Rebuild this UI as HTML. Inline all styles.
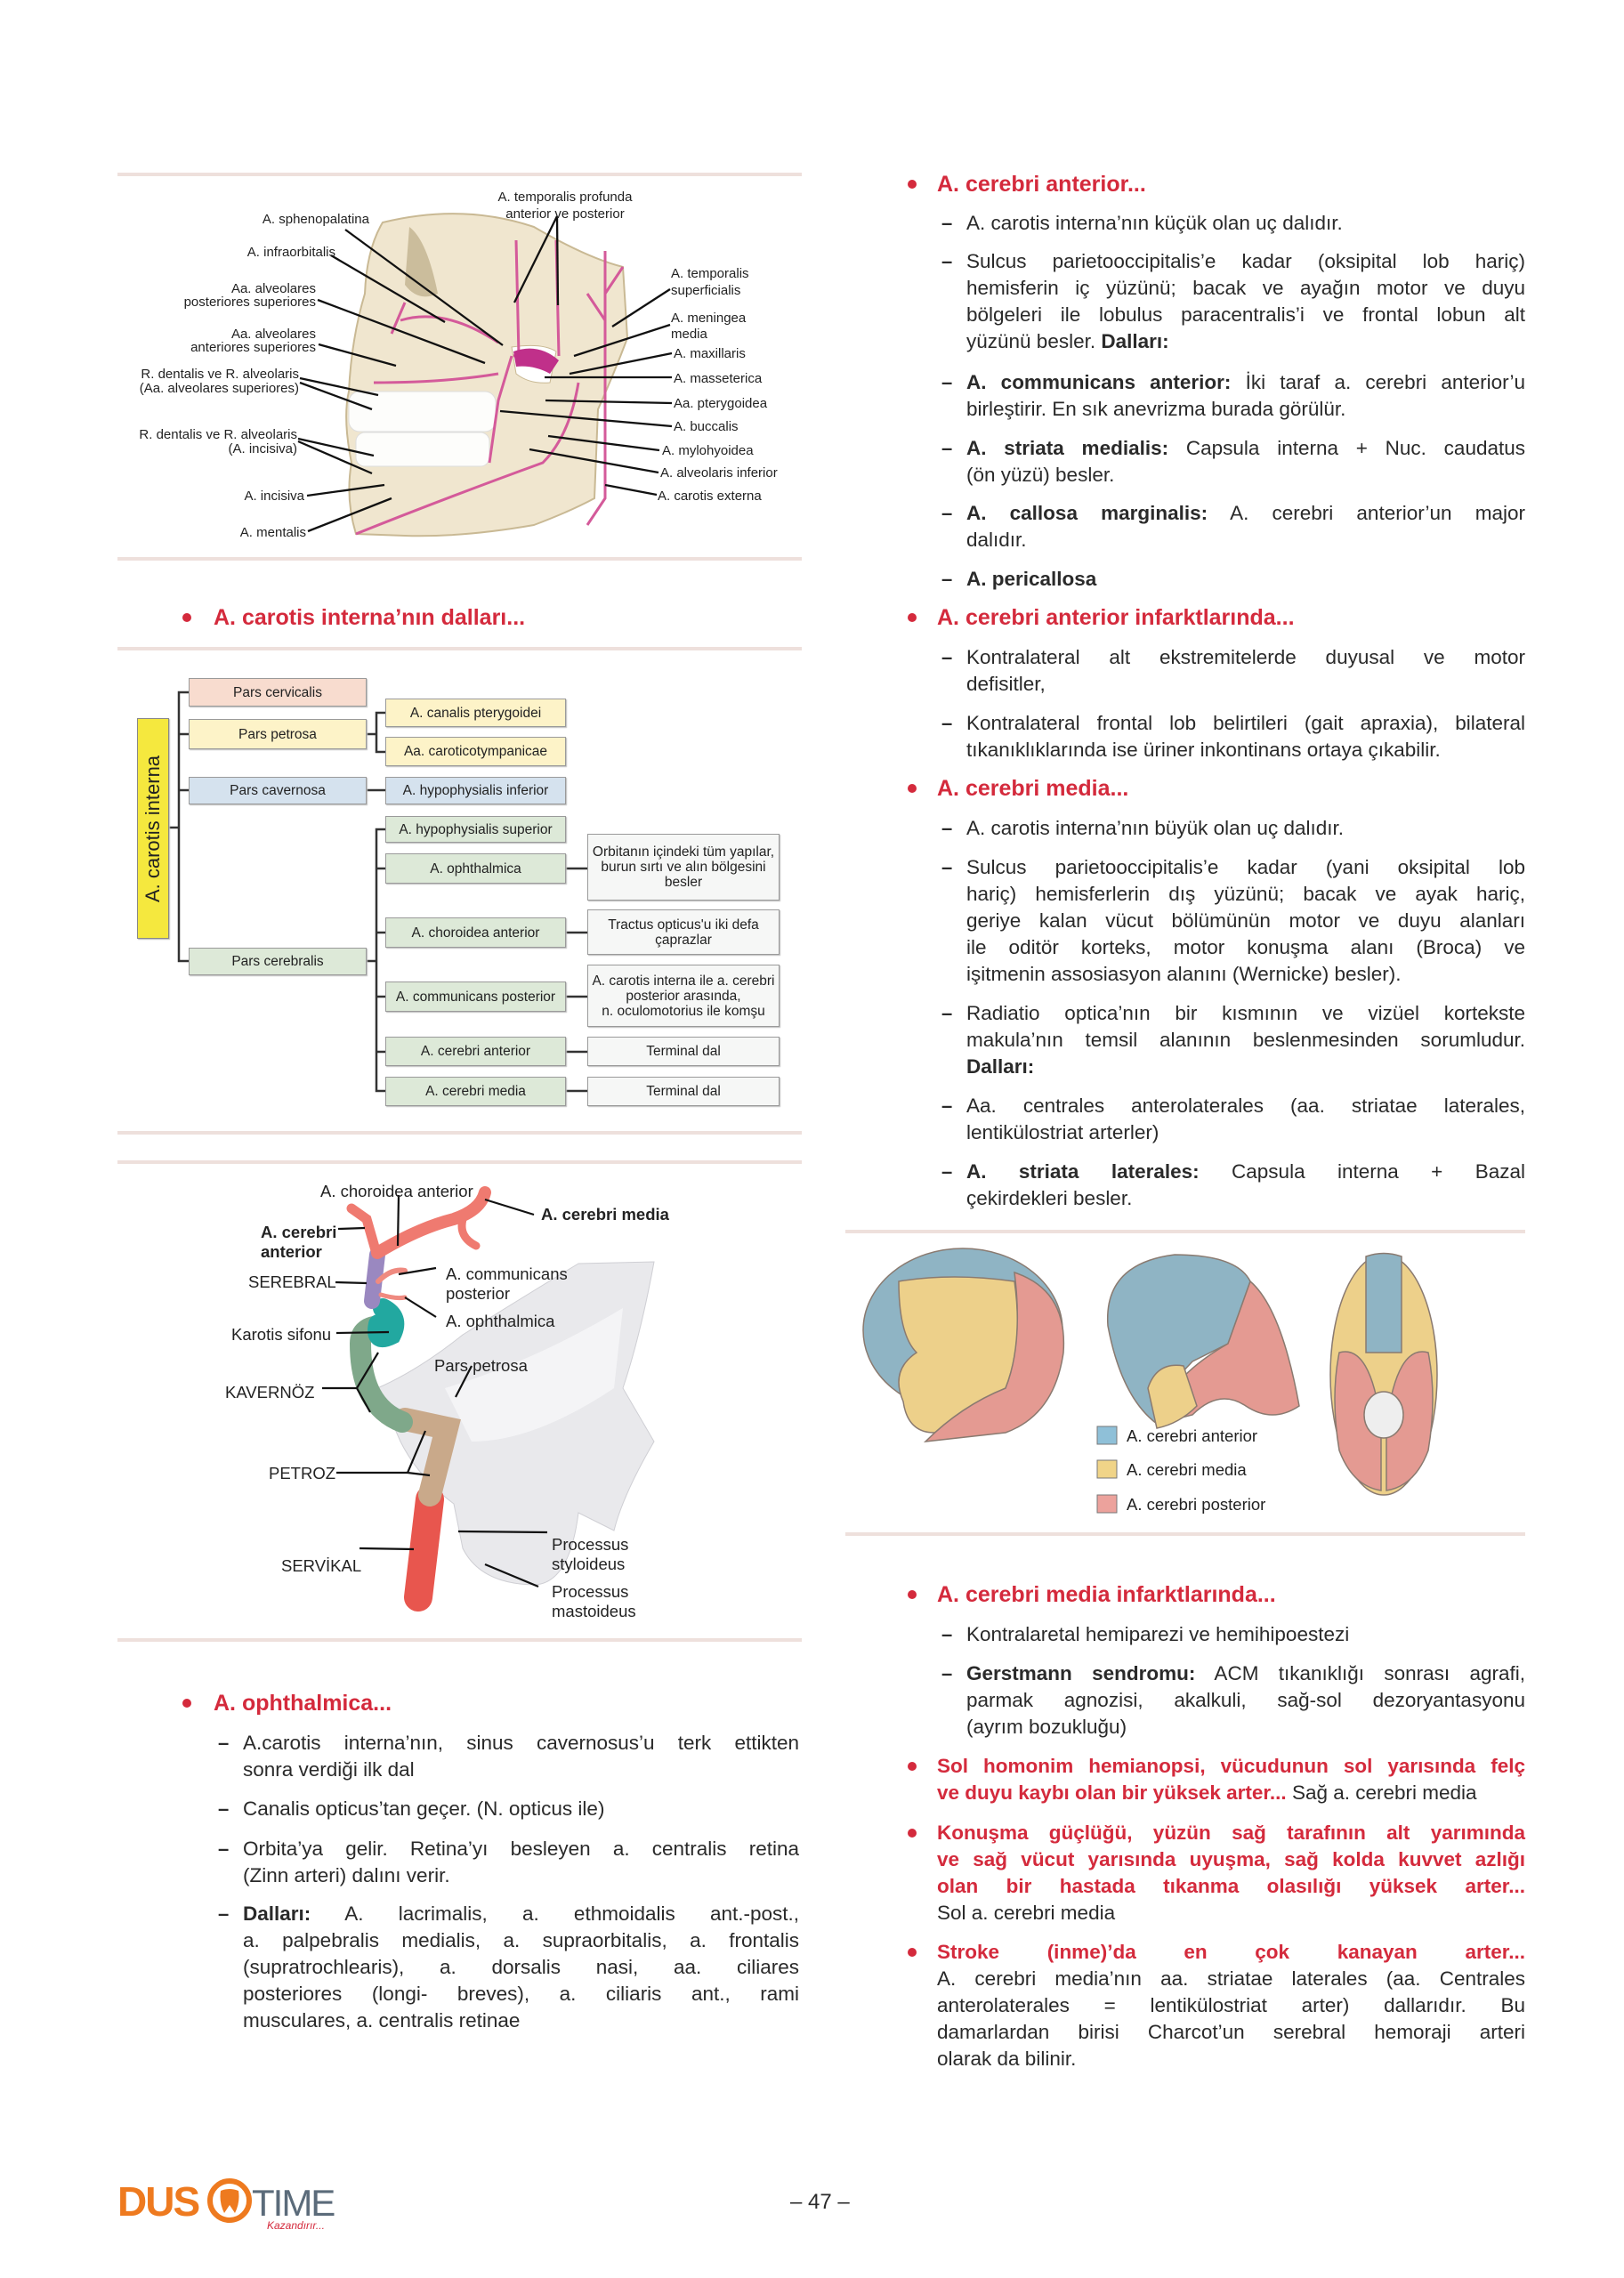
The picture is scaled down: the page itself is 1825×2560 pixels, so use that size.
<!DOCTYPE html>
<html><head><meta charset="utf-8"><style>
*{margin:0;padding:0;box-sizing:border-box}
body{width:1825px;height:2560px;background:#fff;position:relative;overflow:hidden;font-family:"Liberation Sans",sans-serif;color:#2a2a2a}
.l{position:absolute;font-size:22.5px;line-height:30px;height:30px;white-space:nowrap;overflow:visible}
.j{text-align:justify;text-align-last:justify;white-space:normal}
.r{width:628px}.lw{width:625px}
.h{position:absolute;font-size:25px;line-height:30px;font-weight:bold;color:#d42a3c;white-space:nowrap}
.rb{color:#d42a3c;font-weight:bold}
.dot{position:absolute;width:10px;height:10px;border-radius:50%;background:#d42a3c}
.d{position:absolute;font-size:22px;line-height:30px;font-weight:bold}
.hr{position:absolute;height:4px;background:#eee0dc}
svg{position:absolute;left:0;top:0}
.fb{position:absolute;font-size:15.5px;display:flex;align-items:center;justify-content:center;text-align:center;line-height:17px;border:1.5px solid #9a9a9a;color:#222;box-shadow:1px 1px 1px #bbb}
.s{font-size:15px;fill:#222}
.c{font-size:18.5px;fill:#222}
</style></head><body>

<div class="hr" style="left:132px;top:194px;width:769px"></div>
<div class="hr" style="left:132px;top:626px;width:769px"></div>
<div class="hr" style="left:132px;top:727px;width:769px"></div>
<div class="hr" style="left:132px;top:1271px;width:769px"></div>
<div class="hr" style="left:132px;top:1304px;width:769px"></div>
<div class="hr" style="left:132px;top:1841px;width:769px"></div>
<div class="hr" style="left:950px;top:1382px;width:764px"></div>
<div class="hr" style="left:950px;top:1722px;width:764px"></div>

<svg width="1825" height="2560" viewBox="0 0 1825 2560">
<!-- skull -->
<path d="M430,250 Q520,228 600,255 Q660,290 700,300 L705,380 Q690,420 672,460 L668,560 Q640,575 600,590 Q520,604 455,602 L400,600 Q388,560 395,520 Q385,470 392,440 Q395,380 410,330 Q412,280 430,250Z" fill="#f0e6cf" stroke="#c9b994" stroke-width="2"/>
<path d="M460,255 Q480,270 492,330 Q470,340 455,320 Z" fill="#cbbd9c"/>
<path d="M575,390 Q610,385 625,395 L618,430 Q595,432 580,420Z" fill="#fff" stroke="#c9b994"/>
<rect x="392" y="440" width="165" height="45" rx="12" fill="#fdfdfb" stroke="#ddd"/>
<rect x="400" y="486" width="150" height="38" rx="10" fill="#fdfdfb" stroke="#ddd"/>
<g stroke="#d45a9a" stroke-width="3" fill="none">
<path d="M680,282 L680,560 L660,590"/><path d="M680,330 L700,300"/><path d="M680,360 L660,330"/>
<path d="M577,400 Q600,395 625,405"/><path d="M575,400 L560,450 L550,520"/>
<path d="M400,600 Q500,560 610,520 Q640,490 650,430"/>
<path d="M450,360 Q500,345 560,385"/><path d="M420,430 Q500,430 560,420"/>
<path d="M455,340 L440,375"/><path d="M580,270 L583,400"/><path d="M625,270 L628,400"/>
</g>
<path d="M577,395 Q605,385 628,405 L618,420 Q600,410 580,412Z" fill="#c0308a"/>
<g stroke="#111" stroke-width="2.3">
<line x1="388" y1="258" x2="565" y2="388"/><line x1="372" y1="287" x2="500" y2="362"/>
<line x1="357" y1="337" x2="545" y2="408"/><line x1="358" y1="387" x2="445" y2="411"/>
<line x1="337" y1="425" x2="425" y2="444"/><line x1="337" y1="430" x2="418" y2="460"/>
<line x1="335" y1="493" x2="420" y2="512"/><line x1="335" y1="496" x2="418" y2="532"/>
<line x1="345" y1="557" x2="432" y2="545"/><line x1="346" y1="597" x2="440" y2="560"/>
<line x1="626" y1="243" x2="578" y2="340"/><line x1="626" y1="243" x2="627" y2="343"/>
<line x1="753" y1="325" x2="688" y2="367"/><line x1="753" y1="365" x2="645" y2="400"/>
<line x1="755" y1="397" x2="640" y2="420"/><line x1="755" y1="424" x2="612" y2="424"/>
<line x1="755" y1="453" x2="613" y2="450"/><line x1="755" y1="479" x2="562" y2="462"/>
<line x1="741" y1="506" x2="616" y2="490"/><line x1="740" y1="531" x2="595" y2="505"/>
<line x1="738" y1="556" x2="680" y2="545"/>
</g>
<g class="s">
<text x="415" y="251" text-anchor="end" class="s">A. sphenopalatina</text>
<text x="377" y="288" text-anchor="end" class="s">A. infraorbitalis</text>
<text x="355" y="329" text-anchor="end" class="s">Aa. alveolares</text>
<text x="355" y="344" text-anchor="end" class="s">posteriores superiores</text>
<text x="355" y="380" text-anchor="end" class="s">Aa. alveolares</text>
<text x="355" y="395" text-anchor="end" class="s">anteriores superiores</text>
<text x="336" y="425" text-anchor="end" class="s">R. dentalis ve R. alveolaris</text>
<text x="336" y="441" text-anchor="end" class="s">(Aa. alveolares superiores)</text>
<text x="334" y="493" text-anchor="end" class="s">R. dentalis ve R. alveolaris</text>
<text x="334" y="509" text-anchor="end" class="s">(A. incisiva)</text>
<text x="342" y="562" text-anchor="end" class="s">A. incisiva</text>
<text x="344" y="603" text-anchor="end" class="s">A. mentalis</text>
<text x="635" y="226" text-anchor="middle" class="s">A. temporalis profunda</text>
<text x="635" y="245" text-anchor="middle" class="s">anterior ve posterior</text>
<text x="754" y="312" class="s">A. temporalis</text><text x="754" y="331" class="s">superficialis</text>
<text x="754" y="362" class="s">A. meningea</text><text x="754" y="380" class="s">media</text>
<text x="757" y="402" class="s">A. maxillaris</text>
<text x="757" y="430" class="s">A. masseterica</text>
<text x="757" y="458" class="s">Aa. pterygoidea</text>
<text x="757" y="484" class="s">A. buccalis</text>
<text x="744" y="511" class="s">A. mylohyoidea</text>
<text x="742" y="536" class="s">A. alveolaris inferior</text>
<text x="739" y="562" class="s">A. carotis externa</text>
</g>

<!-- flowchart connectors -->
<g stroke="#333" stroke-width="2.5" fill="none">
<path d="M212,778 H201 V1080 H212"/><line x1="201" y1="825" x2="212" y2="825"/><line x1="201" y1="888" x2="212" y2="888"/><line x1="190" y1="930" x2="201" y2="930"/>
<path d="M412,825 H422"/><path d="M433,801 H423 V845 H433"/>
<line x1="412" y1="888" x2="433" y2="888"/>
<path d="M412,1080 H423"/><path d="M433,932 H423 V1226 H433"/>
<line x1="423" y1="976" x2="433" y2="976"/><line x1="423" y1="1048" x2="433" y2="1048"/><line x1="423" y1="1120" x2="433" y2="1120"/><line x1="423" y1="1182" x2="433" y2="1182"/>
<line x1="636" y1="976" x2="660" y2="976"/><line x1="636" y1="1048" x2="660" y2="1048"/><line x1="636" y1="1120" x2="660" y2="1120"/><line x1="636" y1="1182" x2="660" y2="1182"/><line x1="636" y1="1226" x2="660" y2="1226"/>
</g>

<!-- carotid figure -->
<path d="M424,1560 Q470,1540 520,1500 Q600,1450 650,1420 L735,1418 Q720,1500 700,1560 L735,1620 Q700,1680 690,1720 L650,1700 Q640,1780 600,1781 Q540,1780 520,1740 L510,1690 Q470,1660 450,1620 Z" fill="#e9e9ec" stroke="#cfcfd4"/>
<path d="M500,1560 Q600,1530 700,1470 L690,1560 Q600,1620 530,1620Z" fill="#f4f4f6"/>
<g fill="none" stroke-linecap="round">
<path d="M470,1795 L483,1685" stroke="#e8564e" stroke-width="32"/>
<path d="M483,1680 L502,1605 L455,1595" stroke="#c9a98a" stroke-width="26"/>
<path d="M452,1598 Q405,1580 405,1510 Q405,1490 430,1490" stroke="#7fa88a" stroke-width="24"/>
<path d="M430,1470 Q450,1480 440,1500 Q420,1510 425,1488" stroke="#22a8a0" stroke-width="22"/>
<path d="M418,1462 L424,1410" stroke="#9a88c0" stroke-width="18"/>
<path d="M424,1408 Q470,1380 510,1370 Q540,1360 545,1340" stroke="#ef7a70" stroke-width="14"/>
<path d="M422,1405 L412,1370 L395,1358" stroke="#ef7a70" stroke-width="11"/>
<path d="M520,1370 Q515,1390 535,1400" stroke="#ef7a70" stroke-width="9"/>
<path d="M425,1440 Q440,1425 455,1428" stroke="#ef8a80" stroke-width="6"/>
<path d="M428,1455 Q445,1460 455,1458" stroke="#ef8a80" stroke-width="5"/>
</g>
<g stroke="#111" stroke-width="2.2" fill="none">
<line x1="448" y1="1343" x2="447" y2="1400"/><line x1="600" y1="1365" x2="545" y2="1348"/>
<line x1="380" y1="1381" x2="410" y2="1380"/><line x1="377" y1="1441" x2="412" y2="1442"/>
<line x1="490" y1="1425" x2="448" y2="1432"/><line x1="490" y1="1480" x2="455" y2="1458"/>
<line x1="378" y1="1498" x2="437" y2="1497"/>
<path d="M362,1560 H401 L425,1520 M401,1560 L416,1587"/>
<line x1="530" y1="1535" x2="512" y2="1570"/>
<path d="M378,1655 H458 L478,1608 M458,1655 L483,1658"/>
<line x1="404" y1="1740" x2="465" y2="1741"/>
<line x1="615" y1="1722" x2="515" y2="1721"/><line x1="605" y1="1783" x2="545" y2="1758"/>
</g>
<g class="c">
<text x="360" y="1345" class="c">A. choroidea anterior</text>
<text x="608" y="1371" class="c" font-weight="bold">A. cerebri media</text>
<text x="293" y="1391" class="c" font-weight="bold">A. cerebri</text>
<text x="293" y="1413" class="c" font-weight="bold">anterior</text>
<text x="279" y="1447" class="c">SEREBRAL</text>
<text x="501" y="1438" class="c">A. communicans</text><text x="501" y="1460" class="c">posterior</text>
<text x="501" y="1491" class="c">A. ophthalmica</text>
<text x="260" y="1506" class="c">Karotis sifonu</text>
<text x="488" y="1541" class="c">Pars petrosa</text>
<text x="253" y="1571" class="c">KAVERNÖZ</text>
<text x="302" y="1662" class="c">PETROZ</text>
<text x="316" y="1766" class="c">SERVİKAL</text>
<text x="620" y="1742" class="c">Processus</text><text x="620" y="1764" class="c">styloideus</text>
<text x="620" y="1795" class="c">Processus</text><text x="620" y="1817" class="c">mastoideus</text>
</g>

<!-- brains -->
<g stroke="#8a7a70" stroke-width="1.5">
<ellipse cx="1082" cy="1495" rx="112" ry="92" fill="#8fb4c4"/>
<path d="M1010,1440 Q1070,1430 1140,1440 Q1150,1510 1130,1560 Q1090,1600 1050,1610 Q1020,1610 1015,1575 Q1000,1540 1030,1520 Q1010,1500 1010,1440Z" fill="#edd08a"/>
<path d="M1140,1430 Q1200,1450 1195,1520 Q1185,1590 1130,1610 L1040,1620 Q1080,1580 1130,1560 Q1150,1510 1140,1430Z" fill="#e49a92"/>
<path d="M1245,1490 Q1240,1420 1320,1410 Q1390,1410 1405,1440 L1380,1510 L1340,1530 Q1310,1560 1300,1600 Q1260,1570 1245,1490Z" fill="#8fb4c4"/>
<path d="M1405,1440 Q1440,1470 1460,1580 Q1430,1600 1400,1580 Q1370,1560 1340,1590 L1300,1600 Q1310,1550 1380,1510Z" fill="#e49a92"/>
<path d="M1290,1560 Q1300,1530 1330,1535 L1345,1580 Q1325,1600 1300,1605Z" fill="#edd08a"/>
<ellipse cx="1555" cy="1545" rx="60" ry="135" fill="#edd08a"/>
<path d="M1535,1412 Q1555,1405 1575,1412 L1575,1520 L1535,1520Z" fill="#8fb4c4"/>
<path d="M1505,1520 Q1540,1510 1552,1600 L1552,1675 Q1520,1670 1505,1630 Q1495,1570 1505,1520Z" fill="#e49a92"/>
<path d="M1605,1520 Q1570,1510 1558,1600 L1558,1675 Q1590,1670 1605,1630 Q1615,1570 1605,1520Z" fill="#e49a92"/>
<ellipse cx="1555" cy="1590" rx="22" ry="26" fill="#eeeeee"/>
</g>
<rect x="1233" y="1603" width="22" height="20" fill="#8fc0d8" stroke="#777"/>
<rect x="1233" y="1641" width="22" height="20" fill="#f0d488" stroke="#777"/>
<rect x="1233" y="1680" width="22" height="20" fill="#eca29c" stroke="#777"/>
<text x="1266" y="1620" font-size="18.5" fill="#222">A. cerebri anterior</text>
<text x="1266" y="1658" font-size="18.5" fill="#222">A. cerebri media</text>
<text x="1266" y="1697" font-size="18.5" fill="#222">A. cerebri posterior</text>

<!-- logo -->
<text x="132" y="2490" font-size="46" font-weight="bold" fill="#ee7a1f" letter-spacing="-2">DUS</text>
<circle cx="258" cy="2473" r="22" fill="none" stroke="#ee7a1f" stroke-width="6"/>
<path d="M248,2462 Q258,2458 268,2462 Q270,2475 264,2487 L258,2478 L252,2487 Q246,2475 248,2462Z" fill="#ee7a1f"/>
<text x="283" y="2490" font-size="42" fill="#5b6b7a" letter-spacing="-2">TIME</text>
<text x="300" y="2505" font-size="12" font-style="italic" fill="#d42a3c">Kazandırır...</text>
</svg>

<!-- flow boxes -->
<div class="fb" style="left:154px;top:807px;width:36px;height:248px;background:#f5e83e;border-color:#888"><span style="transform:rotate(-90deg);white-space:nowrap;font-size:22px">A. carotis interna</span></div>
<div class="fb" style="left:212px;top:762px;width:200px;height:32px;background:#f8dccf">Pars cervicalis</div>
<div class="fb" style="left:212px;top:808px;width:200px;height:34px;background:#fdf3c8">Pars petrosa</div>
<div class="fb" style="left:212px;top:873px;width:200px;height:31px;background:#d5e2ee">Pars cavernosa</div>
<div class="fb" style="left:212px;top:1065px;width:200px;height:31px;background:#dde9d8">Pars cerebralis</div>
<div class="fb" style="left:433px;top:785px;width:203px;height:32px;background:#fdf3c8">A. canalis pterygoidei</div>
<div class="fb" style="left:433px;top:828px;width:203px;height:33px;background:#fdf3c8">Aa. caroticotympanicae</div>
<div class="fb" style="left:433px;top:873px;width:203px;height:31px;background:#d5e2ee">A. hypophysialis inferior</div>
<div class="fb" style="left:433px;top:917px;width:203px;height:30px;background:#dde9d8">A. hypophysialis superior</div>
<div class="fb" style="left:433px;top:959px;width:203px;height:34px;background:#dde9d8">A. ophthalmica</div>
<div class="fb" style="left:433px;top:1031px;width:203px;height:34px;background:#dde9d8">A. choroidea anterior</div>
<div class="fb" style="left:433px;top:1103px;width:203px;height:34px;background:#dde9d8">A. communicans posterior</div>
<div class="fb" style="left:433px;top:1165px;width:203px;height:33px;background:#dde9d8">A. cerebri anterior</div>
<div class="fb" style="left:433px;top:1210px;width:203px;height:33px;background:#dde9d8">A. cerebri media</div>
<div class="fb" style="left:660px;top:937px;width:216px;height:75px;background:#f6f7f6">Orbitanın içindeki tüm yapılar,<br>burun sırtı ve alın bölgesini<br>besler</div>
<div class="fb" style="left:660px;top:1022px;width:216px;height:51px;background:#f6f7f6">Tractus opticus'u iki defa<br>çaprazlar</div>
<div class="fb" style="left:660px;top:1084px;width:216px;height:70px;background:#f6f7f6">A. carotis interna ile a. cerebri<br>posterior arasında,<br>n. oculomotorius ile komşu</div>
<div class="fb" style="left:660px;top:1165px;width:216px;height:33px;background:#f6f7f6">Terminal dal</div>
<div class="fb" style="left:660px;top:1210px;width:216px;height:33px;background:#f6f7f6">Terminal dal</div>

<!-- left text -->
<div class="dot" style="left:205px;top:689px"></div><div class="h" style="left:240px;top:679px">A. carotis interna’nın dalları...</div>
<div class="dot" style="left:205px;top:1909px"></div><div class="h" style="left:240px;top:1899px">A. ophthalmica...</div>
<div class="d" style="left:245px;top:1944px">–</div>
<div class="l j lw" style="left:273px;top:1944px">A.carotis interna’nın, sinus cavernosus’u terk ettikten</div>
<div class="l lw" style="left:273px;top:1974px">sonra verdiği ilk dal</div>
<div class="d" style="left:245px;top:2018px">–</div>
<div class="l lw" style="left:273px;top:2018px">Canalis opticus’tan geçer. (N. opticus ile)</div>
<div class="d" style="left:245px;top:2063px">–</div>
<div class="l j lw" style="left:273px;top:2063px">Orbita’ya gelir. Retina’yı besleyen a. centralis retina</div>
<div class="l lw" style="left:273px;top:2093px">(Zinn arteri) dalını verir.</div>
<div class="d" style="left:245px;top:2136px">–</div>
<div class="l j lw" style="left:273px;top:2136px"><b>Dalları:</b> A. lacrimalis, a. ethmoidalis ant.-post.,</div>
<div class="l j lw" style="left:273px;top:2166px">a. palpebralis medialis, a. supraorbitalis, a. frontalis</div>
<div class="l j lw" style="left:273px;top:2196px">(supratrochlearis), a. dorsalis nasi, aa. ciliares</div>
<div class="l j lw" style="left:273px;top:2226px">posteriores (longi- breves), a. ciliaris ant., rami</div>
<div class="l lw" style="left:273px;top:2256px">musculares, a. centralis retinae</div>

<!-- right text -->
<div class="dot" style="left:1020px;top:202px"></div><div class="h" style="left:1053px;top:192px">A. cerebri anterior...</div>
<div class="d" style="left:1058px;top:236px">–</div>
<div class="l r" style="left:1086px;top:236px">A. carotis interna’nın küçük olan uç dalıdır.</div>
<div class="d" style="left:1058px;top:279px">–</div>
<div class="l j r" style="left:1086px;top:279px">Sulcus parietooccipitalis’e kadar (oksipital lob hariç)</div>
<div class="l j r" style="left:1086px;top:309px">hemisferin iç yüzünü; bacak ve ayağın motor ve duyu</div>
<div class="l j r" style="left:1086px;top:339px">bölgeleri ile lobulus paracentralis’i ve frontal lobun alt</div>
<div class="l r" style="left:1086px;top:369px">yüzünü besler. <b>Dalları:</b></div>
<div class="d" style="left:1058px;top:415px">–</div>
<div class="l j r" style="left:1086px;top:415px"><b>A. communicans anterior:</b> İki taraf a. cerebri anterior’u</div>
<div class="l r" style="left:1086px;top:445px">birleştirir. En sık anevrizma burada görülür.</div>
<div class="d" style="left:1058px;top:489px">–</div>
<div class="l j r" style="left:1086px;top:489px"><b>A. striata medialis:</b> Capsula interna + Nuc. caudatus</div>
<div class="l r" style="left:1086px;top:519px">(ön yüzü) besler.</div>
<div class="d" style="left:1058px;top:562px">–</div>
<div class="l j r" style="left:1086px;top:562px"><b>A. callosa marginalis:</b> A. cerebri anterior’un major</div>
<div class="l r" style="left:1086px;top:592px">dalıdır.</div>
<div class="d" style="left:1058px;top:636px">–</div>
<div class="l r" style="left:1086px;top:636px"><b>A. pericallosa</b></div>
<div class="dot" style="left:1020px;top:689px"></div><div class="h" style="left:1053px;top:679px">A. cerebri anterior infarktlarında...</div>
<div class="d" style="left:1058px;top:724px">–</div>
<div class="l j r" style="left:1086px;top:724px">Kontralateral alt ekstremitelerde duyusal ve motor</div>
<div class="l r" style="left:1086px;top:754px">defisitler,</div>
<div class="d" style="left:1058px;top:798px">–</div>
<div class="l j r" style="left:1086px;top:798px">Kontralateral frontal lob belirtileri (gait apraxia), bilateral</div>
<div class="l r" style="left:1086px;top:828px">tıkanıklıklarında ise üriner inkontinans ortaya çıkabilir.</div>
<div class="dot" style="left:1020px;top:881px"></div><div class="h" style="left:1053px;top:871px">A. cerebri media...</div>
<div class="d" style="left:1058px;top:916px">–</div>
<div class="l r" style="left:1086px;top:916px">A. carotis interna’nın büyük olan uç dalıdır.</div>
<div class="d" style="left:1058px;top:960px">–</div>
<div class="l j r" style="left:1086px;top:960px">Sulcus parietooccipitalis’e kadar (yani oksipital lob</div>
<div class="l j r" style="left:1086px;top:990px">hariç) hemisferlerin dış yüzünü; bacak ve ayak hariç,</div>
<div class="l j r" style="left:1086px;top:1020px">geriye kalan vücut bölümünün motor ve duyu alanları</div>
<div class="l j r" style="left:1086px;top:1050px">ile oditör korteks, motor konuşma alanı (Broca) ve</div>
<div class="l r" style="left:1086px;top:1080px">işitmenin assosiasyon alanını (Wernicke) besler).</div>
<div class="d" style="left:1058px;top:1124px">–</div>
<div class="l j r" style="left:1086px;top:1124px">Radiatio optica’nın bir kısmının ve vizüel kortekste</div>
<div class="l j r" style="left:1086px;top:1154px">makula’nın temsil alanının beslenmesinden sorumludur.</div>
<div class="l r" style="left:1086px;top:1184px"><b>Dalları:</b></div>
<div class="d" style="left:1058px;top:1228px">–</div>
<div class="l j r" style="left:1086px;top:1228px">Aa. centrales anterolaterales (aa. striatae laterales,</div>
<div class="l r" style="left:1086px;top:1258px">lentikülostriat arterler)</div>
<div class="d" style="left:1058px;top:1302px">–</div>
<div class="l j r" style="left:1086px;top:1302px"><b>A. striata laterales:</b> Capsula interna + Bazal</div>
<div class="l r" style="left:1086px;top:1332px">çekirdekleri besler.</div>

<div class="dot" style="left:1020px;top:1787px"></div><div class="h" style="left:1053px;top:1777px">A. cerebri media infarktlarında...</div>
<div class="d" style="left:1058px;top:1822px">–</div>
<div class="l r" style="left:1086px;top:1822px">Kontralaretal hemiparezi ve hemihipoestezi</div>
<div class="d" style="left:1058px;top:1866px">–</div>
<div class="l j r" style="left:1086px;top:1866px"><b>Gerstmann sendromu:</b> ACM tıkanıklığı sonrası agrafi,</div>
<div class="l j r" style="left:1086px;top:1896px">parmak agnozisi, akalkuli, sağ-sol dezoryantasyonu</div>
<div class="l r" style="left:1086px;top:1926px">(ayrım bozukluğu)</div>
<div class="dot" style="left:1020px;top:1980px"></div>
<div class="l j rb" style="left:1053px;top:1970px;width:661px">Sol homonim hemianopsi, vücudunun sol yarısında felç</div>
<div class="l" style="left:1053px;top:2000px"><span class="rb">ve duyu kaybı olan bir yüksek arter...</span> Sağ a. cerebri media</div>
<div class="dot" style="left:1020px;top:2055px"></div>
<div class="l j rb" style="left:1053px;top:2045px;width:661px">Konuşma güçlüğü, yüzün sağ tarafının alt yarımında</div>
<div class="l j rb" style="left:1053px;top:2075px;width:661px">ve sağ vücut yarısında uyuşma, sağ kolda kuvvet azlığı</div>
<div class="l j rb" style="left:1053px;top:2105px;width:661px">olan bir hastada tıkanma olasılığı yüksek arter...</div>
<div class="l" style="left:1053px;top:2135px">Sol a. cerebri media</div>
<div class="dot" style="left:1020px;top:2189px"></div>
<div class="l j rb" style="left:1053px;top:2179px;width:661px">Stroke (inme)’da en çok kanayan arter...</div>
<div class="l j" style="left:1053px;top:2209px;width:661px">A. cerebri media’nın aa. striatae laterales (aa. Centrales</div>
<div class="l j" style="left:1053px;top:2239px;width:661px">anterolaterales = lentikülostriat arter) dallarıdır. Bu</div>
<div class="l j" style="left:1053px;top:2269px;width:661px">damarlardan birisi Charcot’un serebral hemoraji arteri</div>
<div class="l" style="left:1053px;top:2299px">olarak da bilinir.</div>

<div class="l" style="left:888px;top:2460px;font-size:24px">– 47 –</div>
</body></html>
